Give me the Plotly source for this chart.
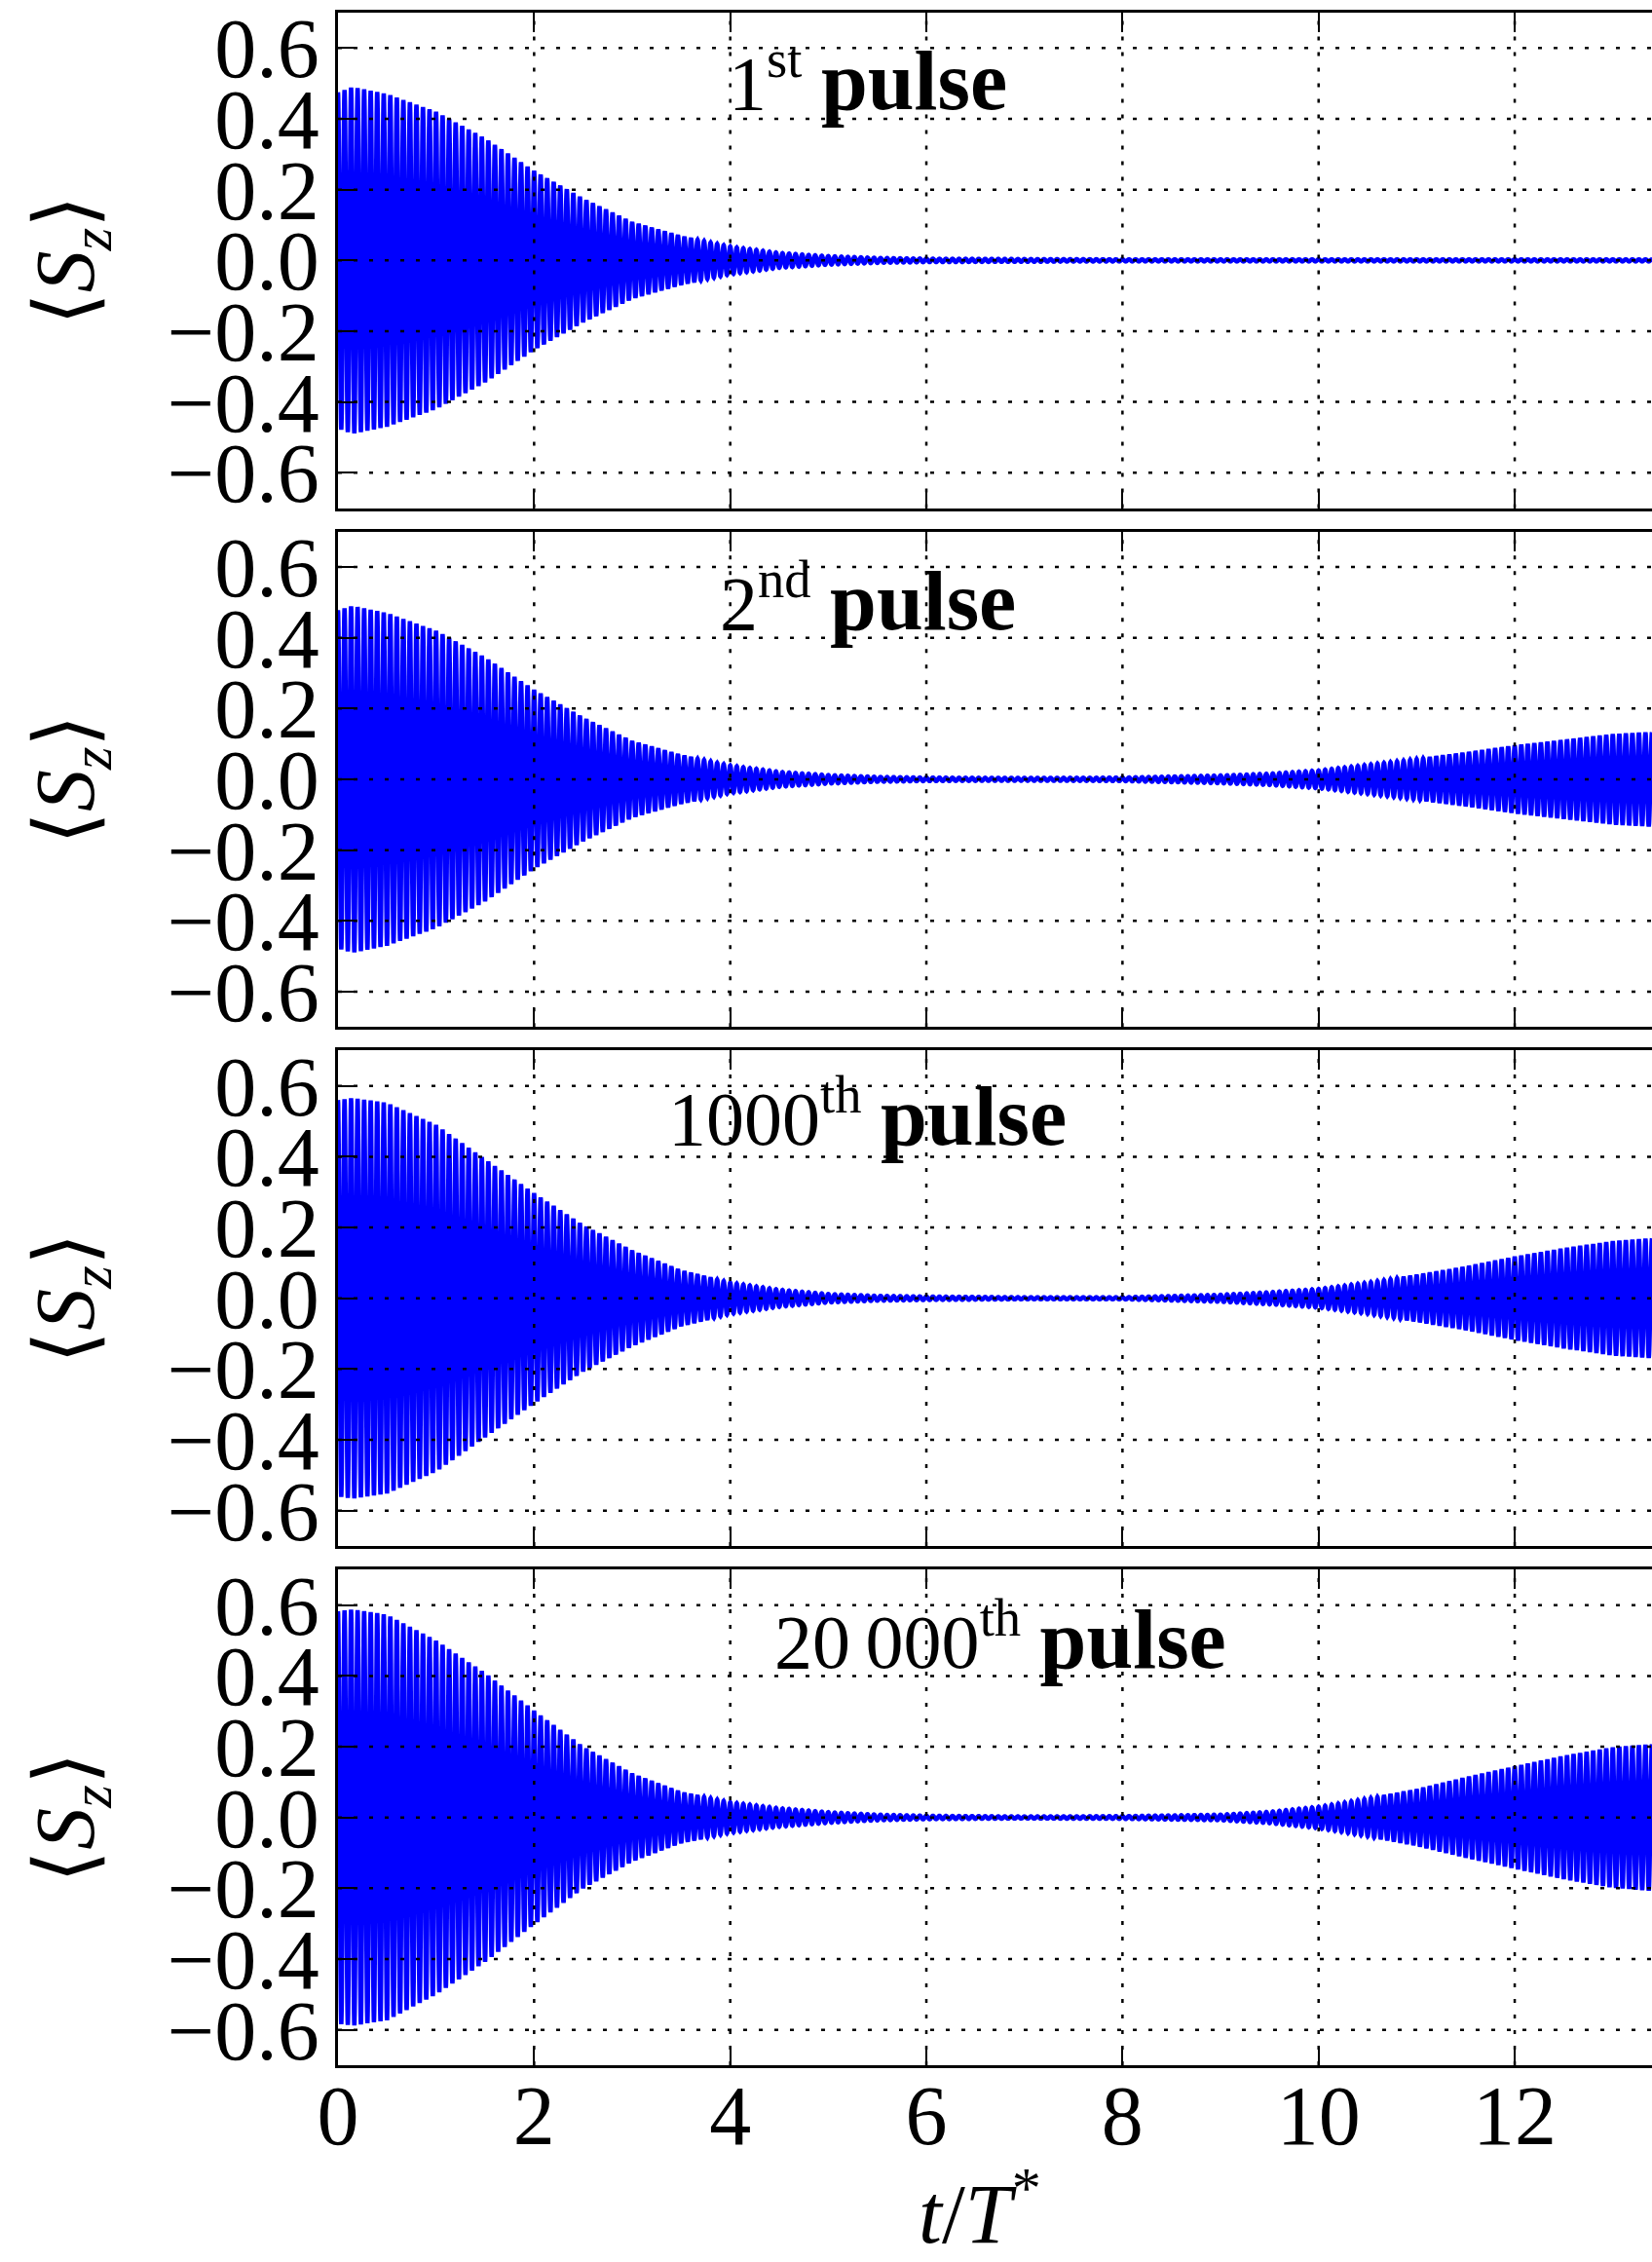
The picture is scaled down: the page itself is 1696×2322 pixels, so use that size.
import numpy as np
import plotly.graph_objects as go

# ---------------- data ----------------
# envelope (amplitude of the fast oscillation) of <S_z>, read at these times t/T*
t_env = [0.0, 0.15, 0.5, 1.0, 1.5, 2.0, 2.5, 3.0, 3.5, 4.0, 4.5, 5.0, 5.5, 6.0,
         7.0, 8.0, 9.0, 9.5, 10.0, 10.5, 11.0, 11.5, 12.0, 12.5, 13.0, 13.4]
env_1st = [0.475, 0.490, 0.470, 0.420, 0.345, 0.253, 0.175, 0.108, 0.068, 0.039,
           0.021, 0.012, 0.007, 0.005, 0.004, 0.003, 0.003, 0.003, 0.003, 0.003,
           0.003, 0.003, 0.003, 0.003, 0.003, 0.003]
env_2nd = [0.478, 0.490, 0.470, 0.420, 0.345, 0.253, 0.175, 0.108, 0.068, 0.039,
           0.021, 0.012, 0.007, 0.005, 0.004, 0.005, 0.011, 0.016, 0.025, 0.041,
           0.057, 0.075, 0.095, 0.111, 0.127, 0.133]
env_1000th = [0.560, 0.566, 0.552, 0.490, 0.393, 0.297, 0.207, 0.135, 0.078, 0.044,
              0.024, 0.012, 0.007, 0.005, 0.003, 0.003, 0.010, 0.017, 0.026, 0.044,
              0.065, 0.089, 0.117, 0.141, 0.161, 0.169]
env_20000th = [0.583, 0.588, 0.573, 0.500, 0.408, 0.302, 0.200, 0.124, 0.071, 0.043,
               0.026, 0.015, 0.008, 0.005, 0.003, 0.004, 0.008, 0.016, 0.030, 0.053,
               0.079, 0.113, 0.144, 0.174, 0.198, 0.207]
envelopes = [env_1st, env_2nd, env_1000th, env_20000th]

oscillations_per_unit = 15      # carrier frequency read from the stripe spacing
t_max = 13.4                    # visible part of the time axis

BOLD = '<b><span style="font-size:86px">pulse</span></b>'
panel_labels = ["1<sup>st</sup> " + BOLD,
                "2<sup>nd</sup> " + BOLD,
                "1000<sup>th</sup> " + BOLD,
                "20\u2009000<sup>th</sup> " + BOLD]
label_t = [5.4, 5.4, 5.4, 6.75]
label_y = [0.515, 0.51, 0.52, 0.51]

x_ticks = [0, 2, 4, 6, 8, 10, 12]
x_ticktext = ["0", "2", "4", "6", "8", "10", "12"]
y_ticks = [-0.6, -0.4, -0.2, 0.0, 0.2, 0.4, 0.6]
y_ticktext = ["\u22120.6", "\u22120.4", "\u22120.2", "0.0", "0.2", "0.4", "0.6"]

# ---------------- figure ----------------
W, H = 1696, 2322
ML, MR, MT, MB = 347, 0, 13, 202
plot_h = H - MT - MB
panel_top_px = [13, 545.7, 1078.4, 1611.4]
panel_h_px = 508.6

FONT = "Liberation Serif"
BLUE = "#0000ff"

t = np.linspace(0, t_max, int(t_max * oscillations_per_unit * 36) + 1)

fig = go.Figure()
layout = dict(
    width=W, height=H,
    margin=dict(l=ML, r=MR, t=MT, b=MB),
    paper_bgcolor="white", plot_bgcolor="white",
    showlegend=False,
    font=dict(family=FONT, size=86, color="black"),
)
shapes = []
annotations = []

for i, env in enumerate(envelopes):
    n = i + 1
    xa = "x" if n == 1 else f"x{n}"
    ya = "y" if n == 1 else f"y{n}"
    amp = np.interp(t, t_env, env)
    sz = amp * np.cos(2 * np.pi * oscillations_per_unit * t)
    fig.add_trace(go.Scatter(x=t, y=sz, mode="lines", xaxis=xa, yaxis=ya,
                             line=dict(color=BLUE, width=4.5, simplify=False),
                             hoverinfo="skip"))

    top = panel_top_px[i]
    d1 = (H - MB - top) / plot_h
    d0 = (H - MB - (top + panel_h_px)) / plot_h
    layout[f"xaxis{n if n > 1 else ''}"] = dict(
        domain=[0, 1], anchor=ya, range=[0, t_max],
        tickvals=x_ticks, ticktext=x_ticktext,
        showticklabels=(n == 4), ticks="inside", ticklen=20, tickwidth=2,
        tickcolor="black", showline=True, linewidth=3, linecolor="black",
        mirror="ticks", showgrid=False, zeroline=False, layer="above traces",
        ticklabelstandoff=-25,
        tickfont=dict(family=FONT, size=86, color="black"),
    )
    layout[f"yaxis{n if n > 1 else ''}"] = dict(
        domain=[max(d0, 0), min(d1, 1)], anchor=xa, range=[-0.7, 0.7],
        tickvals=y_ticks, ticktext=y_ticktext,
        ticks="inside", ticklen=20, tickwidth=2, tickcolor="black",
        showline=True, linewidth=3, linecolor="black", mirror=False,
        showgrid=False, zeroline=False, layer="above traces",
        ticklabelstandoff=-1,
        tickfont=dict(family=FONT, size=86, color="black"),
    )
    # dotted grid drawn above the data
    for yv in y_ticks:
        shapes.append(dict(type="line", xref=f"{xa} domain", yref=ya,
                           x0=0, x1=1, y0=yv, y1=yv, layer="above",
                           line=dict(color="black", width=2.5, dash="4px,12px")))
    for xv in x_ticks[1:]:
        shapes.append(dict(type="line", xref=xa, yref=f"{ya} domain",
                           x0=xv, x1=xv, y0=0, y1=1, layer="above",
                           line=dict(color="black", width=2.5, dash="4px,12px")))
    annotations.append(dict(text=panel_labels[i], xref=xa, yref=ya,
                            x=label_t[i], y=label_y[i], xanchor="center",
                            yanchor="middle", showarrow=False,
                            font=dict(family=FONT, size=78, color="black")))
    annotations.append(dict(text="\u27e8<i>S</i><sub><i>z</i></sub>\u27e9",
                            xref="paper", yref=f"{ya} domain",
                            x=(73 - ML) / (W - ML - MR), y=0.5,
                            xanchor="center", yanchor="middle", textangle=-90,
                            showarrow=False,
                            font=dict(family=FONT, size=86, color="black")))

annotations.append(dict(text="<i>t</i>/<i>T</i><sup>*</sup>", xref="x4", yref="paper",
                        x=6.55, y=(H - MB - 2266) / plot_h, xanchor="center",
                        yanchor="middle", showarrow=False,
                        font=dict(family=FONT, size=86, color="black")))

layout["shapes"] = shapes
layout["annotations"] = annotations
fig.update_layout(**layout)
fig.write_html("out.html")
